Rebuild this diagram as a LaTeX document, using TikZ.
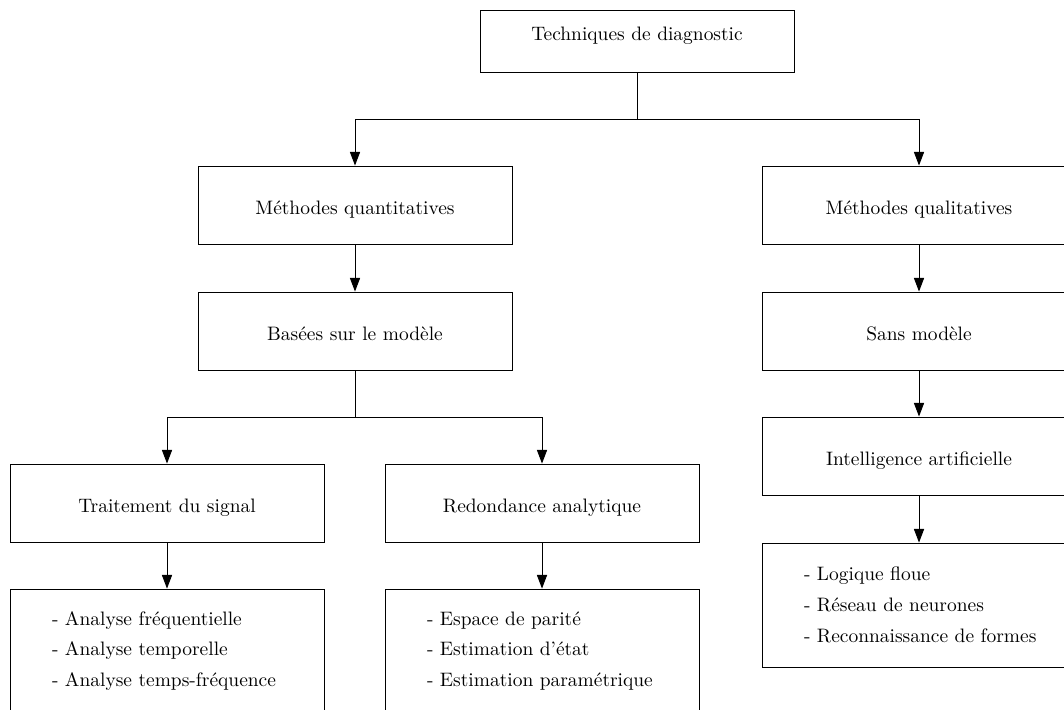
\documentclass[tikz,border=0pt]{standalone}
\usetikzlibrary{arrows.meta}
\begin{document}
\begin{tikzpicture}[
  x=0.514pt, y=-0.514pt,
  box/.style={draw, line width=0.45pt, minimum width=161.4pt, minimum height=40.1pt,
    inner sep=0pt, text height=17.5pt, text depth=8pt},
  topbox/.style={box, minimum height=31.9pt, text height=8pt, text depth=8pt},
  listbox/.style={draw, line width=0.45pt, minimum width=161.4pt, minimum height=63.7pt,
    inner xsep=21.6pt, inner ysep=0pt, text width=118.2pt, align=left,
    font={\fontsize{10}{15.8}\selectfont}},
  arr/.style={line width=0.5pt, -{Triangle[length=7pt,width=5.2pt]}},
  link/.style={line width=0.5pt}
]
\clip (0,0) rectangle (1064,710);

% root
\node[topbox] (tech) at (637,41) {Techniques de diagnostic};

% quantitative branch
\node[box] (mquant) at (355,205) {Méthodes quantitatives};
\node[box] (based)  at (355,331) {Basées sur le modèle};
\node[box] (trait)  at (167,503) {Traitement du signal};
\node[box] (redond) at (542,503) {Redondance analytique};
\node[listbox] (ltrait) at (167,651)
  {- Analyse fréquentielle\\- Analyse temporelle\\- Analyse temps-fréquence};
\node[listbox] (lredond) at (542,651)
  {- Espace de parité\\- Estimation d’état\\- Estimation paramétrique};

% qualitative branch
\node[box] (mqual) at (919,205) {Méthodes qualitatives};
\node[box] (sans)  at (919,331) {Sans modèle};
\node[box] (intel) at (919,456) {Intelligence artificielle};
\node[listbox] (lintel) at (919,605)
  {- Logique floue\\- Réseau de neurones\\\mbox{- Reconnaissance de formes}};

% junction points
\coordinate (j1) at (637,119);
\coordinate (j2) at (355,417);

% connectors
\draw[link] (tech.south) -- (j1);
\draw[arr] (j1) -| (mquant.north);
\draw[arr] (j1) -| (mqual.north);
\draw[arr] (mquant.south) -- (based.north);
\draw[link] (based.south) -- (j2);
\draw[arr] (j2) -| (trait.north);
\draw[arr] (j2) -| (redond.north);
\draw[arr] (trait.south) -- (ltrait.north);
\draw[arr] (redond.south) -- (lredond.north);
\draw[arr] (mqual.south) -- (sans.north);
\draw[arr] (sans.south) -- (intel.north);
\draw[arr] (intel.south) -- (lintel.north);
\end{tikzpicture}
\end{document}
